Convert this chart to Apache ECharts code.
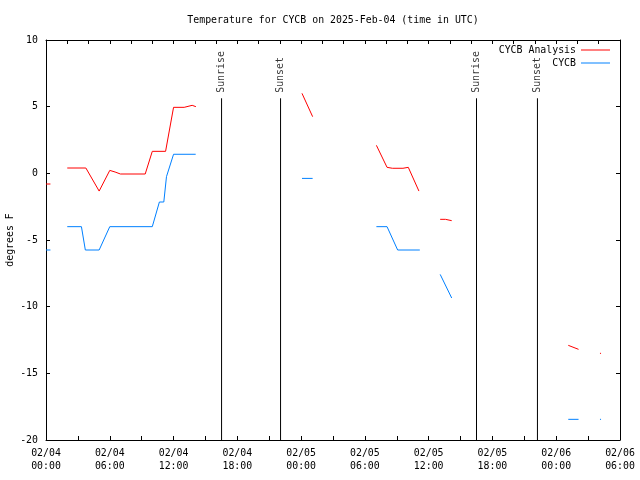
<!DOCTYPE html>
<html><head><meta charset="utf-8">
<script src="https://cdn.jsdelivr.net/npm/echarts@6/dist/echarts.min.js"></script>
<style>html,body{margin:0;padding:0;background:#fff}#c{width:640px;height:480px}</style>
</head><body><div id="c"></div>
<script>
// x tick labels every 6 hours from 02/04 00:00
const xTickLabels = ['02/04\n00:00','02/04\n06:00','02/04\n12:00','02/04\n18:00','02/05\n00:00','02/05\n06:00','02/05\n12:00','02/05\n18:00','02/06\n00:00','02/06\n06:00'];
const yTicks = [-20, -15, -10, -5, 0, 5, 10];

// CYCB Analysis (null = gap)
const analysisTimes = ['02/04 00:00','02/04 00:25','02/04 01:00','02/04 02:00','02/04 03:45','02/04 05:00','02/04 06:00','02/04 06:30','02/04 07:00','02/04 09:20','02/04 10:00','02/04 11:15','02/04 12:00','02/04 13:00','02/04 13:10','02/04 13:45','02/04 13:50','02/04 14:06','02/04 18:00','02/05 00:05','02/05 01:05','02/05 03:00','02/05 07:05','02/05 08:05','02/05 08:35','02/05 09:35','02/05 09:40','02/05 10:05','02/05 11:05','02/05 12:00','02/05 13:05','02/05 13:35','02/05 13:40','02/05 14:10','02/05 20:00','02/06 01:08','02/06 02:06','02/06 03:00','02/06 04:07','02/06 04:13'];
const analysisValues = [-0.8,-0.8,null,0.4,0.4,-1.33,0.22,0.1,-0.05,-0.05,1.65,1.65,4.95,4.95,5.1,5.1,5.0,5.0,null,6.0,4.25,null,2.1,0.45,0.38,0.38,0.45,0.45,-1.33,null,-3.45,-3.45,-3.55,-3.55,null,-12.9,-13.2,null,-13.5,-13.5];

// CYCB observations
const cycbTimes = ['02/04 00:00','02/04 00:25','02/04 01:00','02/04 02:00','02/04 03:20','02/04 03:42','02/04 05:00','02/04 06:00','02/04 10:00','02/04 10:40','02/04 11:05','02/04 11:20','02/04 12:00','02/04 14:05','02/04 18:00','02/05 00:05','02/05 01:05','02/05 03:00','02/05 07:05','02/05 08:05','02/05 09:05','02/05 11:10','02/05 12:00','02/05 13:05','02/05 14:10','02/05 20:00','02/06 01:08','02/06 02:06','02/06 03:00','02/06 04:07','02/06 04:13'];
const cycbValues = [-5.75,-5.75,null,-4.0,-4.0,-5.75,-5.75,-4.0,-4.0,-2.15,-2.15,-0.25,1.43,1.43,null,-0.38,-0.38,null,-4.0,-4.0,-5.75,-5.75,null,-7.58,-9.35,null,-18.45,-18.45,null,-18.45,-18.45];

// Sun events
const sunNames = ['Sunrise','Sunset','Sunrise','Sunset'];
const sunTimes = ['02/04 16:31','02/04 22:04','02/05 16:30','02/05 22:14'];
const sunLineTop = 5.63;

function hoursOf(s){
  const m = s.match(/(\d+)\/(\d+) (\d+):(\d+)/);
  return (parseInt(m[2],10)-4)*24 + parseInt(m[3],10) + parseInt(m[4],10)/60;
}
function pairs(ts, vs){ return ts.map((t,i)=>[hoursOf(t), vs[i]===null ? '-' : vs[i]]); }

const FONT = 'DejaVu Sans Mono';
const FS = 9.9;
const txt = {fontFamily: FONT, fontSize: FS, color: '#000'};

const series = [
  {name:'CYCB Analysis', type:'line', data: pairs(analysisTimes, analysisValues), symbol:'none', connectNulls:false,
   lineStyle:{color:'#ff0000', width:1}, itemStyle:{color:'#ff0000'}, z:3, animation:false},
  {name:'CYCB', type:'line', data: pairs(cycbTimes, cycbValues), symbol:'none', connectNulls:false,
   lineStyle:{color:'#0080ff', width:1}, itemStyle:{color:'#0080ff'}, z:3, animation:false}
];
sunTimes.forEach((t,i)=>{
  const h = hoursOf(t);
  series.push({type:'line', data:[[h, sunLineTop],[h, -20]], symbol:'none', lineStyle:{color:'#000', width:1}, silent:true, animation:false, z:2});
  series.push({type:'scatter', data:[[h, sunLineTop]], symbol:'circle', symbolSize:1, itemStyle:{color:'rgba(0,0,0,0)'}, silent:true, animation:false,
    label:{show:true, formatter: sunNames[i], position:'top', distance:5, rotate:90, align:'left', verticalAlign:'middle', ...txt}});
});

const chart = echarts.init(document.getElementById('c'), null, {renderer:'canvas'});
chart.setOption({
  animation:false,
  backgroundColor:'#fff',
  title:{text:'Temperature for CYCB on 2025-Feb-04 (time in UTC)', left:328, textAlign:'center', top:10,
    textStyle:{fontFamily:FONT, fontSize:FS, fontWeight:'normal', color:'#000'}},
  legend:[
    {data:['CYCB Analysis'], orient:'vertical', right:30, top:45, padding:0, align:'right', icon:'rect', itemWidth:29, itemHeight:1, textStyle:txt, selectedMode:false},
    {data:['CYCB'], orient:'vertical', right:30, top:58, padding:0, align:'right', icon:'rect', itemWidth:29, itemHeight:1, textStyle:txt, selectedMode:false}
  ],
  grid:{left:46, right:20, top:40, bottom:40, containLabel:false, outerBoundsMode:'none'},
  xAxis:[
    {type:'value', min:0, max:54, interval:6, position:'bottom',
     axisLine:{show:true, onZero:false, lineStyle:{color:'#000', width:1}},
     axisTick:{show:true, inside:true, length:4, lineStyle:{color:'#000'}},
     minorTick:{show:true, splitNumber:2, length:4, lineStyle:{color:'#000'}},
     splitLine:{show:false},
     axisLabel:{show:true, margin:7, lineHeight:13, ...txt, formatter:(v)=>xTickLabels[Math.round(v/6)]}},
    {type:'value', min:0, max:54, interval:2, position:'top',
     axisLine:{show:true, onZero:false, lineStyle:{color:'#000', width:1}},
     axisTick:{show:true, inside:true, length:4, lineStyle:{color:'#000'}},
     splitLine:{show:false}, axisLabel:{show:false}}
  ],
  yAxis:[
    {type:'value', min:yTicks[0], max:yTicks[yTicks.length-1], interval:5, position:'left',
     name:'degrees F', nameLocation:'middle', nameGap:31, nameRotate:90, nameMoveOverlap:false, nameTextStyle:txt,
     axisLine:{show:true, onZero:false, lineStyle:{color:'#000', width:1}},
     axisTick:{show:true, inside:true, length:4, lineStyle:{color:'#000'}},
     splitLine:{show:false},
     axisLabel:{show:true, margin:8, ...txt}},
    {type:'value', min:yTicks[0], max:yTicks[yTicks.length-1], interval:5, position:'right',
     axisLine:{show:true, onZero:false, lineStyle:{color:'#000', width:1}},
     axisTick:{show:true, inside:true, length:4, lineStyle:{color:'#000'}},
     splitLine:{show:false}, axisLabel:{show:false}}
  ],
  series: series
});
</script></body></html>
